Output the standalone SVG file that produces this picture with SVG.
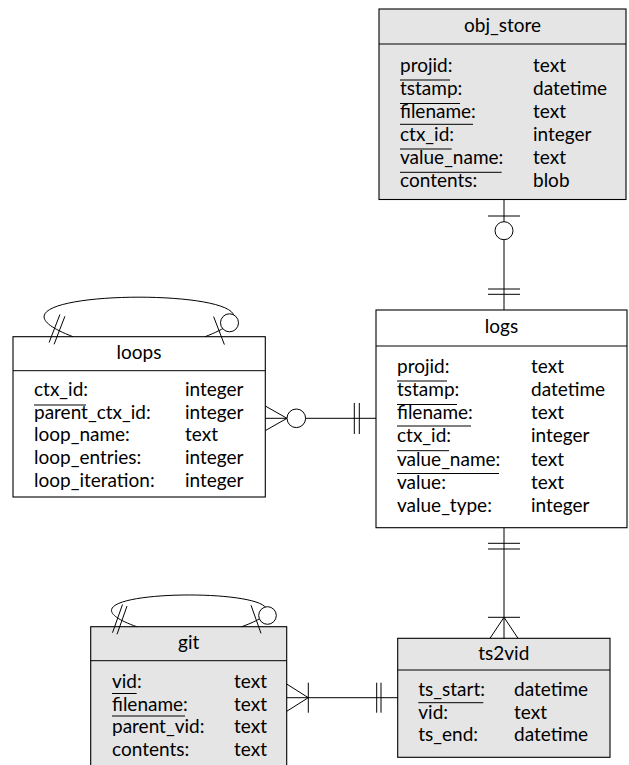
<svg xmlns="http://www.w3.org/2000/svg" width="629" height="765" viewBox="0 0 629 765">
<style>
.box{stroke:#000;stroke-width:1.1}
.g{fill:#e5e5e5}
.w{fill:#fff}
.t{font-family:Lato,"Open Sans","Liberation Sans",sans-serif;font-size:19px;fill:#000}
.h{text-anchor:middle}
.ln{stroke:#000;stroke-width:1;fill:none}
.c{fill:#fff;stroke:#000;stroke-width:1}
</style>
<rect width="629" height="765" fill="#fff"/>
<g id="obj_store">
<rect class="box g" x="379" y="9" width="247" height="190.5"/>
<line class="ln" x1="379" y1="44" x2="626" y2="44"/>
<text class="t h" x="502.5" y="32">obj_store</text>
<text class="t" x="400" y="71.7">projid:</text><text class="t" x="533" y="71.7">text</text>
<text class="t" x="400" y="94.7">tstamp:</text><text class="t" x="533" y="94.7">datetime</text>
<text class="t" x="400" y="117.7">filename:</text><text class="t" x="533" y="117.7">text</text>
<text class="t" x="400" y="140.7">ctx_id:</text><text class="t" x="533" y="140.7">integer</text>
<text class="t" x="400" y="163.7">value_name:</text><text class="t" x="533" y="163.7">text</text>
<text class="t" x="400" y="186.7">contents:</text><text class="t" x="533" y="186.7">blob</text>
<line class="ln" x1="400" y1="80" x2="450" y2="80"/>
<line class="ln" x1="400" y1="103.5" x2="460" y2="103.5"/>
<line class="ln" x1="400" y1="124.3" x2="473" y2="124.3"/>
<line class="ln" x1="400" y1="149" x2="451.7" y2="149"/>
<line class="ln" x1="400" y1="172.3" x2="501.7" y2="172.3"/>
</g>
<g id="logs">
<rect class="box w" x="376" y="310" width="251" height="217.7"/>
<line class="ln" x1="376" y1="346" x2="627" y2="346"/>
<text class="t h" x="501.5" y="333">logs</text>
<text class="t" x="397" y="372.7">projid:</text><text class="t" x="531" y="372.7">text</text>
<text class="t" x="397" y="395.9">tstamp:</text><text class="t" x="531" y="395.9">datetime</text>
<text class="t" x="397" y="419.1">filename:</text><text class="t" x="531" y="419.1">text</text>
<text class="t" x="397" y="442.3">ctx_id:</text><text class="t" x="531" y="442.3">integer</text>
<text class="t" x="397" y="465.5">value_name:</text><text class="t" x="531" y="465.5">text</text>
<text class="t" x="397" y="488.7">value:</text><text class="t" x="531" y="488.7">text</text>
<text class="t" x="397" y="511.9">value_type:</text><text class="t" x="531" y="511.9">integer</text>
<line class="ln" x1="397" y1="381" x2="447" y2="381"/>
<line class="ln" x1="397" y1="404.5" x2="457" y2="404.5"/>
<line class="ln" x1="397" y1="426" x2="471" y2="426"/>
<line class="ln" x1="397" y1="450.7" x2="449" y2="450.7"/>
<line class="ln" x1="397" y1="473.5" x2="499" y2="473.5"/>
</g>
<g id="loops">
<rect class="box w" x="13" y="336.7" width="252.3" height="160.3"/>
<line class="ln" x1="13" y1="370.7" x2="265.3" y2="370.7"/>
<text class="t h" x="139" y="358.7">loops</text>
<text class="t" x="34" y="396">ctx_id:</text><text class="t" x="185" y="396">integer</text>
<text class="t" x="34" y="418.7">parent_ctx_id:</text><text class="t" x="185" y="418.7">integer</text>
<text class="t" x="34" y="441.3">loop_name:</text><text class="t" x="185" y="441.3">text</text>
<text class="t" x="34" y="464">loop_entries:</text><text class="t" x="185" y="464">integer</text>
<text class="t" x="34" y="486.7">loop_iteration:</text><text class="t" x="185" y="486.7">integer</text>
<line class="ln" x1="34" y1="405" x2="86" y2="405"/>
</g>
<g id="git">
<rect class="box g" x="90.7" y="626.7" width="196" height="160"/>
<line class="ln" x1="90.7" y1="660.7" x2="286.7" y2="660.7"/>
<text class="t h" x="188.7" y="648.7">git</text>
<text class="t" x="112" y="688">vid:</text><text class="t" x="234" y="688">text</text>
<text class="t" x="112" y="710.5">filename:</text><text class="t" x="234" y="710.5">text</text>
<text class="t" x="112" y="733">parent_vid:</text><text class="t" x="234" y="733">text</text>
<text class="t" x="112" y="755.5">contents:</text><text class="t" x="234" y="755.5">text</text>
<line class="ln" x1="112" y1="693.5" x2="136.7" y2="693.5"/>
<line class="ln" x1="112" y1="716" x2="185" y2="716"/>
</g>
<g id="ts2vid">
<rect class="box g" x="397.7" y="638.3" width="212.3" height="119"/>
<line class="ln" x1="397.7" y1="670" x2="610" y2="670"/>
<text class="t h" x="503.8" y="660.3">ts2vid</text>
<text class="t" x="418.3" y="696">ts_start:</text><text class="t" x="514" y="696">datetime</text>
<text class="t" x="418.3" y="718.5">vid:</text><text class="t" x="514" y="718.5">text</text>
<text class="t" x="418.3" y="741">ts_end:</text><text class="t" x="514" y="741">datetime</text>
<line class="ln" x1="418.3" y1="702.7" x2="483.3" y2="702.7"/>
</g>
<g id="connectors">
<!-- obj_store - logs -->
<line class="ln" x1="504" y1="199.5" x2="504" y2="310"/>
<line class="ln" x1="488" y1="216" x2="520" y2="216"/>
<circle class="c" cx="504" cy="230.7" r="9"/>
<line class="ln" x1="488" y1="289" x2="520" y2="289"/>
<line class="ln" x1="488" y1="294.3" x2="520" y2="294.3"/>
<!-- loops - logs -->
<line class="ln" x1="265.3" y1="418.3" x2="376" y2="418.3"/>
<line class="ln" x1="265.3" y1="406" x2="287" y2="418.3"/>
<line class="ln" x1="265.3" y1="430.6" x2="287" y2="418.3"/>
<circle class="c" cx="296.3" cy="418.3" r="9.3"/>
<line class="ln" x1="354.3" y1="403" x2="354.3" y2="434"/>
<line class="ln" x1="359.3" y1="403" x2="359.3" y2="434"/>
<!-- logs - ts2vid -->
<line class="ln" x1="504" y1="527.7" x2="504" y2="638.3"/>
<line class="ln" x1="488" y1="543.3" x2="520" y2="543.3"/>
<line class="ln" x1="488" y1="549" x2="520" y2="549"/>
<line class="ln" x1="488" y1="617.3" x2="520" y2="617.3"/>
<line class="ln" x1="504" y1="617.3" x2="490" y2="638.3"/>
<line class="ln" x1="504" y1="617.3" x2="518" y2="638.3"/>
<!-- git - ts2vid -->
<line class="ln" x1="286.7" y1="697.7" x2="397.7" y2="697.7"/>
<line class="ln" x1="286.7" y1="684" x2="308.3" y2="697.7"/>
<line class="ln" x1="286.7" y1="711.3" x2="308.3" y2="697.7"/>
<line class="ln" x1="308.3" y1="682.7" x2="308.3" y2="712.7"/>
<line class="ln" x1="376.7" y1="682.7" x2="376.7" y2="712.7"/>
<line class="ln" x1="381" y1="682.7" x2="381" y2="712.7"/>
<!-- loops self -->
<path class="ln" d="M73,336.7 C-65,284 343,284 205,336.7"/>
<line class="ln" x1="49.1" y1="342.5" x2="59.9" y2="314.5"/>
<line class="ln" x1="54.1" y1="344.3" x2="64.9" y2="316.3"/>
<line class="ln" x1="213.6" y1="316.6" x2="224.4" y2="344.6"/>
<circle class="c" cx="229.5" cy="322.8" r="9"/>
<!-- git self -->
<path class="ln" d="M136.7,626.7 C18.7,584.4 359.7,584.4 241.7,626.7"/>
<line class="ln" x1="112.5" y1="632.7" x2="122.5" y2="604.5"/>
<line class="ln" x1="117" y1="634.3" x2="127" y2="606.1"/>
<line class="ln" x1="251" y1="605.2" x2="261" y2="633.4"/>
<circle class="c" cx="267.5" cy="615.5" r="8.8"/>
</g>
</svg>
